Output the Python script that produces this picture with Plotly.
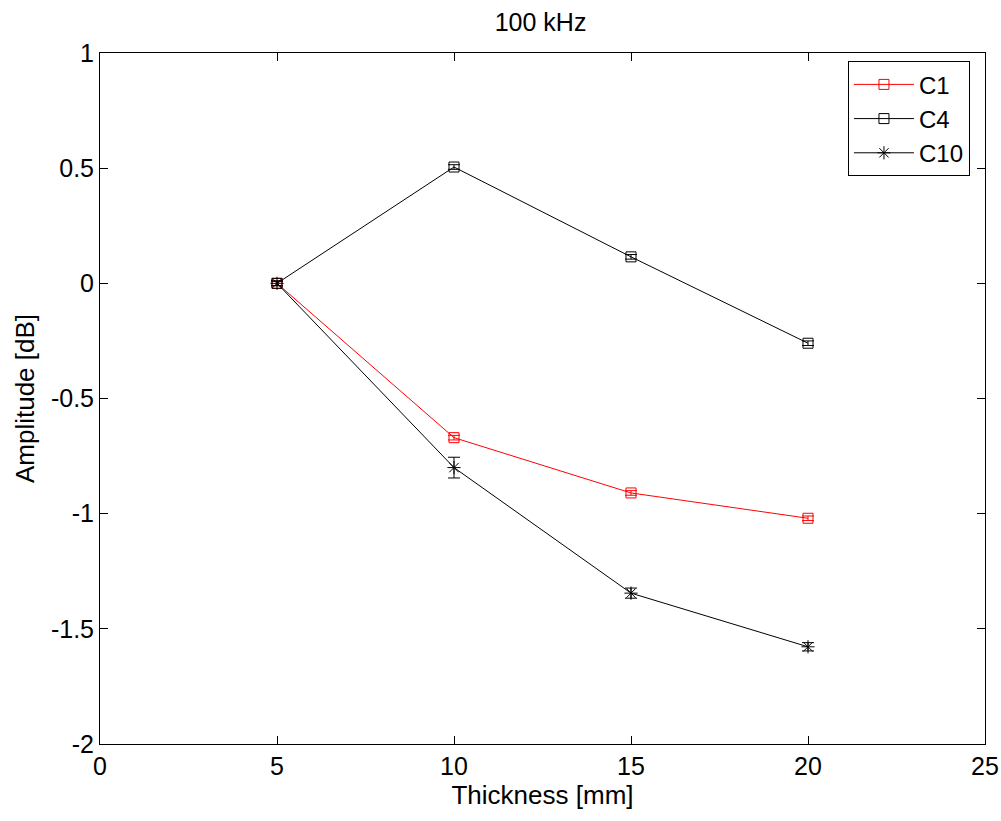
import plotly.graph_objects as go

thickness = [5, 10, 15, 20]
c1 = [0.0, -0.67, -0.91, -1.02]
c1_err = [0.01, 0.01, 0.01, 0.01]
c4 = [0.0, 0.505, 0.115, -0.26]
c4_err = [0.01, 0.01, 0.01, 0.01]
c10 = [0.0, -0.80, -1.345, -1.578]
c10_err = [0.01, 0.045, 0.022, 0.018]

FONT = "Arial, Liberation Sans"

fig = go.Figure()
series = [
    ("C1", c1, c1_err, "#ff0000", "square-open", 10),
    ("C4", c4, c4_err, "#000000", "square-open", 10),
    ("C10", c10, c10_err, "#000000", "asterisk-open", 11),
]
for name, y, e, col, sym, sz in series:
    fig.add_trace(go.Scatter(
        x=thickness, y=y, name=name, mode="lines+markers",
        line=dict(color=col, width=1),
        marker=dict(symbol=sym, size=sz, color=col, line=dict(color=col, width=1)),
        error_y=dict(type="data", array=e, visible=True, color=col, thickness=1, width=6),
    ))

axis_common = dict(
    showline=True, linecolor="black", linewidth=1, mirror="ticks",
    ticks="inside", ticklen=8, tickcolor="black", showgrid=False, zeroline=False,
    automargin=False,
    tickfont=dict(family=FONT, size=25, color="black"),
)
fig.update_layout(
    width=1001, height=821,
    paper_bgcolor="white", plot_bgcolor="white",
    margin=dict(l=100, r=16, t=53, b=77),
    title=dict(text="100 kHz", x=0.54, xanchor="center", y=0.973, yanchor="middle",
               font=dict(family=FONT, size=25, color="black")),
    xaxis=dict(range=[0, 25], tickvals=[0, 5, 10, 15, 20, 25],
               title=dict(text="Thickness [mm]", standoff=2,
                          font=dict(family=FONT, size=26, color="black")),
               **axis_common),
    yaxis=dict(range=[-2, 1], tickvals=[-2, -1.5, -1, -0.5, 0, 0.5, 1],
               ticktext=["-2", "-1.5", "-1", "-0.5", "0", "0.5", "1"],
               title=dict(text="Amplitude [dB]", standoff=8,
                          font=dict(family=FONT, size=26, color="black")),
               **axis_common),
    legend=dict(x=0.983, y=0.988, xanchor="right", yanchor="top",
                bordercolor="black", borderwidth=1, bgcolor="white",
                font=dict(family=FONT, size=24, color="black"),
                itemwidth=60, tracegroupgap=0),
    showlegend=True,
)
fig.write_html("out.html")
